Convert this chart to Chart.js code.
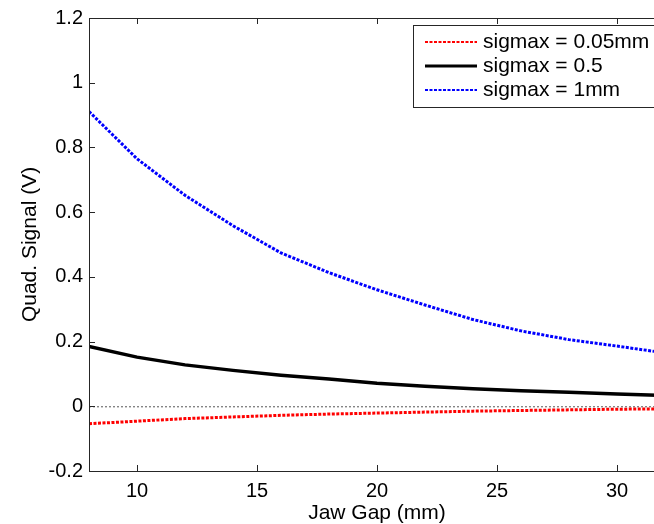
<!DOCTYPE html>
<html>
<head>
<meta charset="utf-8">
<script src="https://cdn.jsdelivr.net/npm/chart.js@4.4.1/dist/chart.umd.min.js"></script>
<style>
  html, body { margin: 0; padding: 0; background: #fff; }
  #wrap { width: 654px; height: 524px; overflow: hidden; }
</style>
</head>
<body>
<div id="wrap"><canvas id="chart" width="680" height="524"></canvas></div>
<script>
const jawGap = [8, 10, 12, 14, 16, 18, 20, 22, 24, 26, 28, 30, 32]
const sig005 = [-0.054, -0.046, -0.038, -0.033, -0.028, -0.024, -0.021, -0.018, -0.015, -0.013, -0.011, -0.009, -0.008]
const sig05 = [0.185, 0.152, 0.128, 0.111, 0.096, 0.084, 0.071, 0.062, 0.054, 0.048, 0.043, 0.038, 0.033]
const sig1 = [0.911, 0.765, 0.652, 0.558, 0.474, 0.413, 0.36, 0.313, 0.268, 0.233, 0.206, 0.186, 0.165]
const xTicks = [10, 15, 20, 25, 30]
const yTicks = [-0.2, 0, 0.2, 0.4, 0.6, 0.8, 1, 1.2]
const seriesNames = ['sigmax = 0.05mm', 'sigmax = 0.5', 'sigmax = 1mm']

const FONT = '"Liberation Sans", Arial, sans-serif'
const AXIS = '#262626'

function pts(ys) {
    return jawGap.map((x, i) => ({ x: x, y: ys[i] }))
}

// axes box, inward ticks, zero line and legend like the matlab figure
const matlabBits = {
    id: 'matlabBits',
    beforeDatasetsDraw(chart) {
        const ctx = chart.ctx
        const a = chart.chartArea
        const y0 = chart.scales.y.getPixelForValue(0)
        ctx.save()
        ctx.strokeStyle = '#555'
        ctx.lineWidth = 1
        ctx.setLineDash([2, 2])
        ctx.beginPath()
        ctx.moveTo(a.left, y0 + 0.5)
        ctx.lineTo(a.right, y0 + 0.5)
        ctx.stroke()
        ctx.restore()
    },
    afterDatasetsDraw(chart) {
        const ctx = chart.ctx
        const a = chart.chartArea
        const xs = chart.scales.x
        const ys = chart.scales.y
        ctx.save()
        ctx.strokeStyle = AXIS
        ctx.lineWidth = 1
        ctx.strokeRect(Math.round(a.left) + 0.5, Math.round(a.top) + 0.5, a.right - a.left, a.bottom - a.top)
        ctx.beginPath()
        xTicks.forEach(v => {
            const px = Math.round(xs.getPixelForValue(v)) + 0.5
            ctx.moveTo(px, a.bottom); ctx.lineTo(px, a.bottom - 6)
            ctx.moveTo(px, a.top); ctx.lineTo(px, a.top + 6)
        })
        yTicks.forEach(v => {
            const py = Math.round(ys.getPixelForValue(v)) + 0.5
            ctx.moveTo(a.left, py); ctx.lineTo(a.left + 6, py)
            ctx.moveTo(a.right, py); ctx.lineTo(a.right - 6, py)
        })
        ctx.stroke()

        // legend box
        const bx = 413.5, by = 25.5
        ctx.fillStyle = '#fff'
        ctx.fillRect(bx, by, 300, 82)
        ctx.strokeRect(bx, by, 300, 82)
        ctx.font = '21px ' + FONT
        ctx.textBaseline = 'middle'
        chart.data.datasets.forEach((ds, i) => {
            const ry = 42 + i * 24
            ctx.save()
            ctx.strokeStyle = ds.borderColor
            ctx.lineWidth = i === 1 ? 3 : 2
            ctx.setLineDash(ds.borderDash || [])
            ctx.beginPath()
            ctx.moveTo(425, ry)
            ctx.lineTo(477, ry)
            ctx.stroke()
            ctx.restore()
            ctx.fillStyle = '#000'
            ctx.fillText(ds.label, 483, ry)
        })
        ctx.restore()
    }
}

const ctx = document.getElementById('chart').getContext('2d')
const chart = new Chart(ctx, {
    type: 'line',
    data: {
        datasets: [{
            label: seriesNames[0],
            data: pts(sig005),
            borderColor: '#ff0000',
            borderWidth: 3,
            borderDash: [3, 1.5]
        }, {
            label: seriesNames[1],
            data: pts(sig05),
            borderColor: '#000000',
            borderWidth: 3.5
        }, {
            label: seriesNames[2],
            data: pts(sig1),
            borderColor: '#0000ff',
            borderWidth: 3,
            borderDash: [3, 1.5]
        }]
    },
    options: {
        responsive: false,
        animation: false,
        layout: { padding: { top: 16, right: 15, left: 0, bottom: 0 } },
        elements: { point: { radius: 0 }, line: { tension: 0 } },
        plugins: { legend: { display: false }, tooltip: { enabled: false } },
        scales: {
            x: {
                type: 'linear',
                min: 8,
                max: 32,
                grid: { display: false, drawTicks: false },
                border: { display: false },
                afterBuildTicks: s => { s.ticks = xTicks.map(v => ({ value: v })) },
                afterFit: s => { s.height = 53 },
                ticks: { color: '#000', padding: 8, font: { family: FONT, size: 20 } },
                title: {
                    display: true,
                    text: 'Jaw Gap (mm)',
                    color: '#000',
                    padding: { top: 0, bottom: 0 },
                    font: { family: FONT, size: 21, lineHeight: 1 }
                }
            },
            y: {
                min: -0.2,
                max: 1.2,
                grid: { display: false, drawTicks: false },
                border: { display: false },
                afterBuildTicks: s => { s.ticks = yTicks.map(v => ({ value: v })) },
                afterFit: s => { s.width = 89 },
                ticks: {
                    color: '#000',
                    padding: 6,
                    font: { family: FONT, size: 20 },
                    callback: v => String(parseFloat(v.toFixed(2)))
                },
                title: {
                    display: true,
                    text: 'Quad. Signal (V)',
                    color: '#000',
                    padding: { top: 20, bottom: 0 },
                    font: { family: FONT, size: 21, lineHeight: 1 }
                }
            }
        }
    },
    plugins: [matlabBits]
})
</script>
</body>
</html>
